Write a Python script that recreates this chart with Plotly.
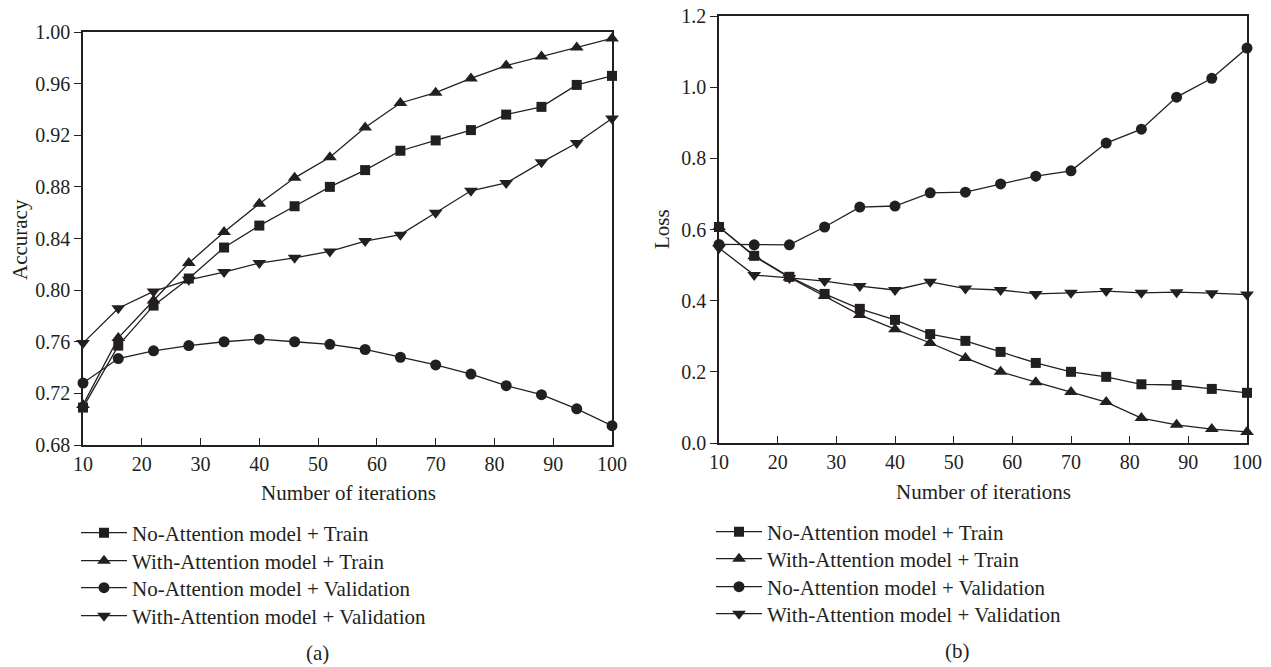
import plotly.graph_objects as go

iterations = [10, 16, 22, 28, 34, 40, 46, 52, 58, 64, 70, 76, 82, 88, 94, 100]

series_names = [
    "No-Attention model + Train",
    "With-Attention model + Train",
    "No-Attention model + Validation",
    "With-Attention model + Validation",
]
series_symbols = ["square", "triangle-up", "circle", "triangle-down"]

acc_noatt_train = [0.709, 0.757, 0.788, 0.809, 0.833, 0.850, 0.865, 0.880, 0.893, 0.908, 0.916, 0.924, 0.936, 0.942, 0.959, 0.966]
acc_att_train = [0.711, 0.763, 0.792, 0.821, 0.845, 0.867, 0.887, 0.903, 0.926, 0.945, 0.953, 0.964, 0.974, 0.981, 0.988, 0.995]
acc_noatt_val = [0.728, 0.747, 0.753, 0.757, 0.760, 0.762, 0.760, 0.758, 0.754, 0.748, 0.742, 0.735, 0.726, 0.719, 0.708, 0.695]
acc_att_val = [0.759, 0.786, 0.799, 0.808, 0.814, 0.821, 0.825, 0.830, 0.838, 0.843, 0.860, 0.877, 0.883, 0.899, 0.914, 0.933]

loss_noatt_train = [0.607, 0.526, 0.467, 0.419, 0.377, 0.346, 0.306, 0.287, 0.256, 0.225, 0.200, 0.186, 0.165, 0.163, 0.152, 0.141]
loss_att_train = [0.607, 0.525, 0.465, 0.413, 0.360, 0.320, 0.281, 0.239, 0.200, 0.171, 0.143, 0.115, 0.070, 0.051, 0.039, 0.031]
loss_noatt_val = [0.558, 0.557, 0.557, 0.607, 0.663, 0.666, 0.703, 0.705, 0.728, 0.750, 0.765, 0.843, 0.882, 0.972, 1.025, 1.110]
loss_att_val = [0.548, 0.472, 0.464, 0.455, 0.441, 0.430, 0.453, 0.434, 0.430, 0.419, 0.422, 0.427, 0.422, 0.424, 0.421, 0.417]

top_tick_vals = [16, 28, 40, 52, 64, 76, 88, 100]
x_tick_vals = [10, 20, 30, 40, 50, 60, 70, 80, 90, 100]
acc_tick_vals = [0.68, 0.72, 0.76, 0.80, 0.84, 0.88, 0.92, 0.96, 1.00]
loss_tick_vals = [0.0, 0.2, 0.4, 0.6, 0.8, 1.0, 1.2]

INK = "#231f20"
FONT = "Liberation Serif"
TICK_FS = 20
TEXT_FS = 21
marker_sizes = {"square": 10, "triangle-up": 12, "circle": 11, "triangle-down": 12}

W, H = 1271, 667


def px(v):
    return v / W


def py(v):
    return 1 - v / H


fig = go.Figure()

acc_series = [acc_noatt_train, acc_att_train, acc_noatt_val, acc_att_val]
loss_series = [loss_noatt_train, loss_att_train, loss_noatt_val, loss_att_val]

legend_rows_left = [533, 561, 588, 616]
legend_rows_right = [532, 559, 587, 614]

legend_layouts = {}
for i, (name, sym) in enumerate(zip(series_names, series_symbols)):
    lid = "legend" if i == 0 else "legend%d" % (i + 1)
    fig.add_trace(go.Scatter(
        x=iterations, y=acc_series[i], name=name, mode="lines+markers",
        line=dict(color=INK, width=1.3),
        marker=dict(symbol=sym, size=marker_sizes[sym], color=INK),
        xaxis="x", yaxis="y", legend=lid, cliponaxis=False,
    ))
    legend_layouts[lid] = dict(x=px(76), y=py(legend_rows_left[i]), xanchor="left",
                               yanchor="middle", bgcolor="rgba(0,0,0,0)",
                               font=dict(family=FONT, size=TEXT_FS, color=INK),
                               itemwidth=46)
for i, (name, sym) in enumerate(zip(series_names, series_symbols)):
    lid = "legend%d" % (i + 5)
    fig.add_trace(go.Scatter(
        x=iterations, y=loss_series[i], name=name, mode="lines+markers",
        line=dict(color=INK, width=1.3),
        marker=dict(symbol=sym, size=marker_sizes[sym], color=INK),
        xaxis="x2", yaxis="y2", legend=lid, cliponaxis=False,
    ))
    legend_layouts[lid] = dict(x=px(711), y=py(legend_rows_right[i]), xanchor="left",
                               yanchor="middle", bgcolor="rgba(0,0,0,0)",
                               font=dict(family=FONT, size=TEXT_FS, color=INK),
                               itemwidth=46)

L_dom_x = [px(83), px(612)]
L_dom_y = [py(445), py(32)]
R_dom_x = [px(719), px(1247)]
R_dom_y = [py(443), py(16)]

tickfont = dict(family=FONT, size=TICK_FS, color=INK)
base_axis = dict(showgrid=False, zeroline=False, showline=True, linecolor=INK,
                 linewidth=1.5, tickcolor=INK, tickwidth=1.3, ticklen=7,
                 tickfont=tickfont, mirror=True)
overlay_axis = dict(ticklen=7, tickwidth=1.3, tickcolor=INK, showticklabels=False,
                    showline=False, showgrid=False, zeroline=False, ticks="inside")

fig.update_layout(
    width=W, height=H,
    margin=dict(l=0, r=0, t=0, b=0, autoexpand=False),
    paper_bgcolor="white", plot_bgcolor="white",
    font=dict(family=FONT, size=TICK_FS, color=INK),
    showlegend=True,
    xaxis=dict(base_axis, domain=L_dom_x, anchor="y", range=[10, 100],
               tickvals=x_tick_vals, ticks="inside"),
    yaxis=dict(base_axis, domain=L_dom_y, anchor="x", range=[0.68, 1.00],
               tickvals=acc_tick_vals, tickformat=".2f", ticks="outside"),
    xaxis3=dict(overlay_axis, overlaying="x", side="top", anchor="y", range=[10, 100],
                tickvals=top_tick_vals),
    yaxis3=dict(overlay_axis, overlaying="y", side="right", anchor="x", range=[0.68, 1.00],
                tickvals=acc_tick_vals),
    xaxis2=dict(base_axis, domain=R_dom_x, anchor="y2", range=[10, 100],
                tickvals=x_tick_vals, ticks="inside"),
    yaxis2=dict(base_axis, domain=R_dom_y, anchor="x2", range=[0, 1.2],
                tickvals=loss_tick_vals, tickformat=".1f", ticks="outside"),
    xaxis4=dict(overlay_axis, overlaying="x2", side="top", anchor="y2", range=[10, 100],
                tickvals=top_tick_vals),
    yaxis4=dict(overlay_axis, overlaying="y2", side="right", anchor="x2", range=[0, 1.2],
                tickvals=loss_tick_vals),
    **legend_layouts,
)

ann_font = dict(family=FONT, size=TEXT_FS, color=INK)
annots = [
    ("Accuracy", 20, 240, -90),
    ("Loss", 662, 229, -90),
    ("Number of iterations", 348, 493, 0),
    ("Number of iterations", 983, 492, 0),
    ("(a)", 317, 653, 0),
    ("(b)", 957, 651, 0),
]
for text, x, y, ang in annots:
    fig.add_annotation(text=text, x=px(x), y=py(y), xref="paper", yref="paper",
                       xanchor="center", yanchor="middle", textangle=ang,
                       showarrow=False, font=ann_font)

fig.write_html("out.html")
